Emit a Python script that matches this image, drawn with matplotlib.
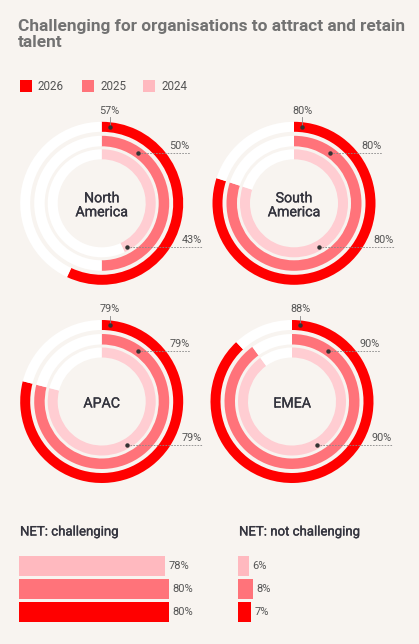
import numpy as np
import matplotlib
matplotlib.use("Agg")
import matplotlib.pyplot as plt
import matplotlib.patheffects as pe
from matplotlib.patches import Rectangle

plt.rcParams['font.family'] = ['Roboto', 'DejaVu Sans']

# ---- data ----
years = ["2026", "2025", "2024"]
regions = ["North\nAmerica", "South\nAmerica", "APAC", "EMEA"]
# outer ring = 2026, middle = 2025, inner = 2024
ring_2026 = [57, 80, 79, 88]
ring_2025 = [50, 80, 79, 90]
ring_2024 = [43, 80, 79, 90]

bar_years = ["2024", "2025", "2026"]
net_challenging = [78, 80, 80]
net_not_challenging = [6, 8, 7]

# ---- style ----
W, H = 419, 644
BG = "#f8f4f0"
C26 = "#ff0000"
C25 = "#ff737a"
C24 = "#ffb9bf"
C24_RING = "#ffcdd2"
TXT = "#555555"
DARK = "#34343e"
# a touch heavier than regular, lighter than bold
MEDIUM = [pe.withStroke(linewidth=0.22, foreground=DARK)]

fig = plt.figure(figsize=(W / 100, H / 100), dpi=100)
fig.patch.set_facecolor(BG)


def px_axes(x0, y0, w, h):
    # pixel box (top-left origin) -> figure axes
    return fig.add_axes([x0 / W, 1 - (y0 + h) / H, w / W, h / H])


# title (baseline of the last line)
fig.text(18 / W, 1 - 47 / H, "Challenging for organisations to attract and retain\ntalent",
         fontsize=12.4, fontweight='bold', color="#727272", va='baseline', ha='left',
         linespacing=1.12)

# legend
leg_x = [20, 82, 143]
for lx, yr, c in zip(leg_x, years, [C26, C25, C24]):
    fig.patches.append(Rectangle((lx / W, 1 - 92 / H), 12 / W, 12 / H, transform=fig.transFigure,
                                 facecolor=c, edgecolor='none'))
    fig.text((lx + 18) / W, 1 - 86 / H, yr, fontsize=8.4, color=TXT, va='center', ha='left')

# donuts
centers = [(101.7, 203.3), (294, 203.3), (101.7, 401.5), (292, 401.5)]
R = 110
ring_specs = [(81.5, 10, C26), (67.5, 10.5, C25), (54, 10, C24_RING)]

for (cx, cy), name, v26, v25, v24 in zip(centers, regions, ring_2026, ring_2025, ring_2024):
    ax = px_axes(cx - R, cy - R, 2 * R, 2 * R)
    ax.set_axis_off()
    for (rad, wid, col), val in zip(ring_specs, [v26, v25, v24]):
        ax.pie([val, 100 - val], radius=rad, startangle=90, counterclock=False,
               colors=[col, "white"], wedgeprops=dict(width=wid, edgecolor='none', linewidth=0))
    ax.set_xlim(-R, R)
    ax.set_ylim(-R, R)
    ax.set_aspect('equal')
    ax.text(0, -2, name, ha='center', va='center', fontsize=10.2, fontweight='normal',
            color=DARK, linespacing=1.0, path_effects=MEDIUM)

    # outer label
    a = np.deg2rad(6)
    dx, dy = 77 * np.sin(a), 77 * np.cos(a)
    ax.plot([dx, dx], [dy, 86], color="#888888", lw=0.6)
    ax.plot(dx, dy, 'o', ms=2.2, color="#333333")
    ax.text(dx, 92, f"{v26}%", ha='center', va='center', fontsize=7.8, color=TXT)

    # middle label
    a = np.deg2rad(36)
    dx, dy = 62 * np.sin(a), 62 * np.cos(a)
    ax.plot([dx, 88], [dy, dy], color="#888888", lw=0.6, ls=(0, (2, 1.5)))
    ax.plot(dx, dy, 'o', ms=2.2, color="#333333")
    ax.text(88, dy + 7, f"{v25}%", ha='right', va='center', fontsize=7.8, color=TXT)

    # inner label
    a = np.deg2rad(150)
    dx, dy = 50 * np.sin(a), 50 * np.cos(a)
    ax.plot([dx, 100], [dy, dy], color="#888888", lw=0.6, ls=(0, (2, 1.5)))
    ax.plot(dx, dy, 'o', ms=2.2, color="#333333")
    ax.text(100, dy + 7, f"{v24}%", ha='right', va='center', fontsize=7.8, color=TXT)

# NET bars
SCALE = 1.875  # px per percentage point
bar_cols = [C24, C25, C26]
for x0, title, vals, w in [(19, "NET: challenging", net_challenging, 200),
                           (238, "NET: not challenging", net_not_challenging, 150)]:
    fig.text((x0 + 1) / W, 1 - 532 / H, title, fontsize=9.5, fontweight='normal',
             color=DARK, va='center', ha='left', path_effects=MEDIUM)
    ax = px_axes(x0, 554.5, w, 69)
    ax.set_axis_off()
    ax.barh(range(3), vals, height=20 / 23, color=bar_cols)
    ax.set_xlim(0, w / SCALE)
    ax.set_ylim(2.5, -0.5)
    for i, v in enumerate(vals):
        ax.annotate(f"{v}%", (v, i), xytext=(2.3, 0), textcoords='offset points',
                    va='center', ha='left', fontsize=8, color=TXT)

fig.savefig("out.png", dpi=100, facecolor=BG)
